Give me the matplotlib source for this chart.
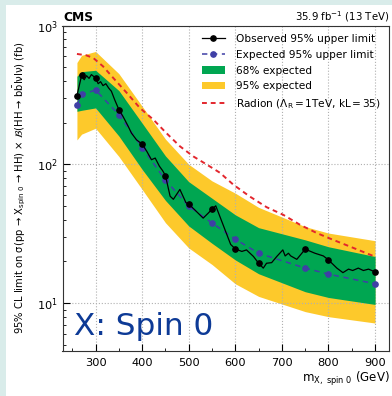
import matplotlib
matplotlib.use("Agg")
import matplotlib.pyplot as plt
import numpy as np
from matplotlib.lines import Line2D
from matplotlib.patches import Patch, Rectangle

plt.rcParams["font.family"] = ["DejaVu Sans"]
plt.rcParams["mathtext.fontset"] = "dejavusans"

# mass points with markers
mass = [260, 270, 300, 350, 400, 450, 500, 550, 600, 650, 750, 800, 900]
obs_pts = [312, 437, 419, 248, 140, 83, 51.8, 47.6, 24.7, 19.4, 24.5, 20.5, 16.8]
exp_pts = [269, 319, 343, 228, 132, 77, 50, 37.8, 28.9, 22.9, 17.9, 16.2, 13.8]

# observed limit, fine scan
obs_m = [260, 270, 275.5, 280.7, 286, 291, 300, 305.6, 310.7, 316, 322, 328, 334, 341, 350,
         359, 370, 377, 388, 400, 410, 420, 428, 437, 444, 450, 460, 467, 481, 494, 500,
         513, 531, 542, 550, 558, 590, 600, 614, 624, 639, 650, 660, 667, 678, 689, 702,
         707, 714, 719, 732, 750, 771, 789, 800, 818, 831, 843, 852, 864, 875, 886, 900]
obs_v = [312, 437, 407, 435, 416, 443, 419, 381, 394, 369, 381, 355, 336, 292, 248,
         221, 188, 168, 150, 140, 124, 108, 111, 97, 90, 83, 59, 56, 66, 53, 51.8,
         47, 41, 44.6, 47.6, 50.3, 26.5, 24.6, 23.6, 24.2, 21.7, 19.4, 17.9, 19.4, 19.6, 21.7, 24.2,
         21.9, 22.9, 21.9, 20.7, 24.5, 22.9, 21.9, 20.5, 17.9, 16.6, 17.6, 17.2, 17.9, 17.2, 17.6, 16.8]

# expected bands
band_m = [260, 270, 300, 350, 400, 450, 500, 550, 600, 650, 750, 800, 900]
y95_lo = [150, 165, 182, 114, 66, 38, 25, 19, 13.8, 11.2, 8.7, 8.0, 7.2]
y68_lo = [241, 245, 255, 160, 92, 55, 36, 27, 20.5, 16.3, 12.1, 11.0, 9.8]
y68_hi = [431, 465, 476, 340, 198, 115, 75, 57, 43.3, 35, 28.6, 25.5, 21.7]
y95_hi = [541, 610, 650, 450, 262, 152, 100, 76, 62, 49, 35.6, 32, 28.2]

# radion prediction
rad_m = [260, 280, 295, 316, 338, 367, 395, 424, 452, 481, 510, 538, 567, 596, 631, 667,
         703, 739, 775, 810, 846, 896]
rad_v = [624, 610, 584, 508, 419, 327, 255, 210, 168, 135, 114, 100, 87, 71.3, 58.7, 49.2,
         43.3, 36.7, 32, 28.6, 25.6, 21.9]

GREEN = "#00a651"
YELLOW = "#fdc92b"
BLUE = "#3f3fa6"
RED = "#e3262d"

fig = plt.figure(figsize=(3.92, 3.96), dpi=100, facecolor="#d9ecea")
fig.patches.append(Rectangle((6 / 392, 0), 1, 1 - 5 / 396, transform=fig.transFigure,
                             facecolor="white", edgecolor="none", zorder=-10))
ax = fig.add_axes([62.5 / 392, 1 - 350.7 / 396, 327 / 392, 325.2 / 396])

ax.fill_between(band_m, y95_lo, y95_hi, color=YELLOW, lw=0, zorder=1)
ax.fill_between(band_m, y68_lo, y68_hi, color=GREEN, lw=0, zorder=2)
ax.plot(mass, exp_pts, "--", color=BLUE, lw=1.1, dashes=(3.5, 3), zorder=3)
ax.plot(mass, exp_pts, "o", color=BLUE, ms=3.8, zorder=3)
ax.plot(obs_m, obs_v, "-", color="black", lw=0.9, zorder=4)
ax.plot(mass, obs_pts, "o", color="black", ms=3.8, zorder=4)
ax.plot(rad_m, rad_v, "--", color=RED, lw=1.4, dashes=(2.5, 2), zorder=5)

ax.set_yscale("log")
ax.set_xlim(229, 931)
ax.set_ylim(4.55, 1000)
ax.set_xticks([300, 400, 500, 600, 700, 800, 900])
ax.set_xticks(np.arange(250, 931, 50), minor=True)
ax.tick_params(which="both", direction="in", labelsize=8.2, top=False, right=False)
ax.tick_params(axis="x", pad=5)
ax.tick_params(which="major", length=5)
ax.tick_params(which="minor", length=2.5)
ax.grid(True, which="major", color="#b0b0b0", linestyle=":", lw=0.8)
for s in ax.spines.values():
    s.set_linewidth(0.8)
    s.set_color("#333333")

ax.set_xlabel(r"m$_{\mathrm{X,\ spin\ 0}}$ (GeV)", fontsize=8.5, loc="right", labelpad=2)
ax.set_ylabel(r"95% CL limit on σ(pp → X$_{\mathrm{spin\ 0}}$ → HH) × $\mathcal{B}$(HH → b$\bar{\mathrm{b}}$lνlν) (fb)",
              fontsize=7.2, labelpad=6)

fig.text(63 / 392, 1 - 21 / 396, "CMS", fontsize=8.8, fontweight="bold", va="baseline")
fig.text(389 / 392, 1 - 21 / 396, r"35.9 fb$^{-1}$ (13 TeV)", fontsize=7.3, ha="right", va="baseline")
fig.text(74 / 392, 1 - 335 / 396, "X: Spin 0", fontsize=22.4, color="#0d3a96", va="baseline")

handles = [
    Line2D([0], [0], color="black", lw=0.9, marker="o", ms=3.8),
    Line2D([0], [0], color=BLUE, lw=1.1, ls="--", dashes=(3.5, 3), marker="o", ms=3.8),
    Patch(facecolor=GREEN, edgecolor="none"),
    Patch(facecolor=YELLOW, edgecolor="none"),
    Line2D([0], [0], color=RED, lw=1.4, ls="--", dashes=(2.5, 2)),
]
labels = ["Observed 95% upper limit", "Expected 95% upper limit", "68% expected",
          "95% expected", r"Radion (Λ$_{\mathrm{R}}\,$=$\,$1TeV, kL$\,$=$\,$35)"]
ax.legend(handles, labels, loc="upper right", frameon=False, fontsize=7.6,
          handlelength=2.1, borderaxespad=0.4, labelspacing=0.55, handletextpad=1.1,
          bbox_to_anchor=(1.0, 1.0))

fig.savefig("out.png", dpi=100, facecolor=fig.get_facecolor())
